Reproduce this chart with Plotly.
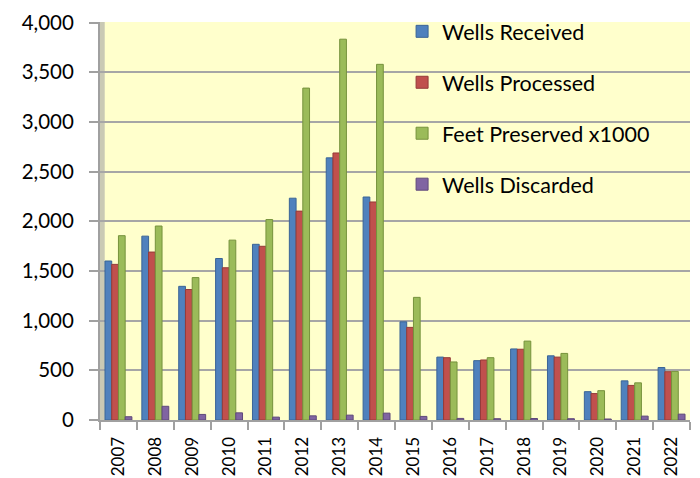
import plotly.graph_objects as go

years = ["2007", "2008", "2009", "2010", "2011", "2012", "2013", "2014",
         "2015", "2016", "2017", "2018", "2019", "2020", "2021", "2022"]
wells_received = [1600, 1850, 1345, 1625, 1768, 2232, 2638, 2244,
                  988, 633, 597, 715, 646, 285, 394, 528]
wells_processed = [1566, 1690, 1313, 1532, 1748, 2102, 2687, 2194,
                   932, 627, 604, 712, 633, 266, 348, 486]
feet_preserved = [1855, 1952, 1433, 1810, 2017, 3340, 3832, 3579,
                  1234, 584, 627, 794, 670, 295, 374, 489]
wells_discarded = [33, 138, 56, 72, 29, 42, 49, 69,
                   36, 16, 13, 15, 13, 10, 39, 59]
y_ticks = [0, 500, 1000, 1500, 2000, 2500, 3000, 3500, 4000]

series = [
    ("Wells Received", wells_received, "#4F81BD", "#3A6496"),
    ("Wells Processed", wells_processed, "#C0504D", "#953B39"),
    ("Feet Preserved x1000", feet_preserved, "#9BBB59", "#76923C"),
    ("Wells Discarded", wells_discarded, "#8064A2", "#5F497A"),
]

fig = go.Figure()
for i, (name, vals, col, edge) in enumerate(series):
    fig.add_trace(go.Bar(
        x=years, y=vals, name=name, legendgroup=f"g{i}",
        marker=dict(color=col, line=dict(color=edge, width=1)),
    ))

# left "wall" of the 3D-style chart
fig.add_shape(type="rect", xref="paper", yref="paper",
              x0=0, x1=0.008, y0=0, y1=1,
              fillcolor="#C9C9B4", line=dict(width=0), layer="below")

fig.update_layout(
    width=700, height=478,
    margin=dict(l=92, r=18, t=14, b=66, autoexpand=False),
    paper_bgcolor="white",
    plot_bgcolor="#FFFFCC",
    barmode="group",
    bargap=0.27,
    bargroupgap=0,
    font=dict(family="Lato, Open Sans, sans-serif", color="black"),
    legend=dict(
        x=0.512, y=1.028, xanchor="left", yanchor="top",
        bgcolor="rgba(0,0,0,0)",
        font=dict(size=21.5),
        tracegroupgap=20,
        itemwidth=30,
    ),
    showlegend=True,
)
fig.update_xaxes(
    type="category", automargin=False,
    tickangle=-90,
    tickfont=dict(size=17),
    ticklabelstandoff=8,
    showline=True, linecolor="#A0A0A0", linewidth=2,
    ticks="outside", tickson="boundaries", ticklen=8,
    tickcolor="#A0A0A0", tickwidth=2,
    showgrid=False,
)
fig.update_yaxes(
    automargin=False,
    range=[0, 4005], tickvals=y_ticks, tickformat=",",
    tickfont=dict(size=20.5),
    ticklabelstandoff=11,
    ticklabeloverflow="allow",
    showline=True, linecolor="#A0A0A0", linewidth=2,
    ticks="outside", ticklen=9, tickcolor="#A0A0A0", tickwidth=2,
    showgrid=True, gridcolor="#A6A6A6", gridwidth=2,
    zeroline=False,
)
fig.write_html("out.html")
